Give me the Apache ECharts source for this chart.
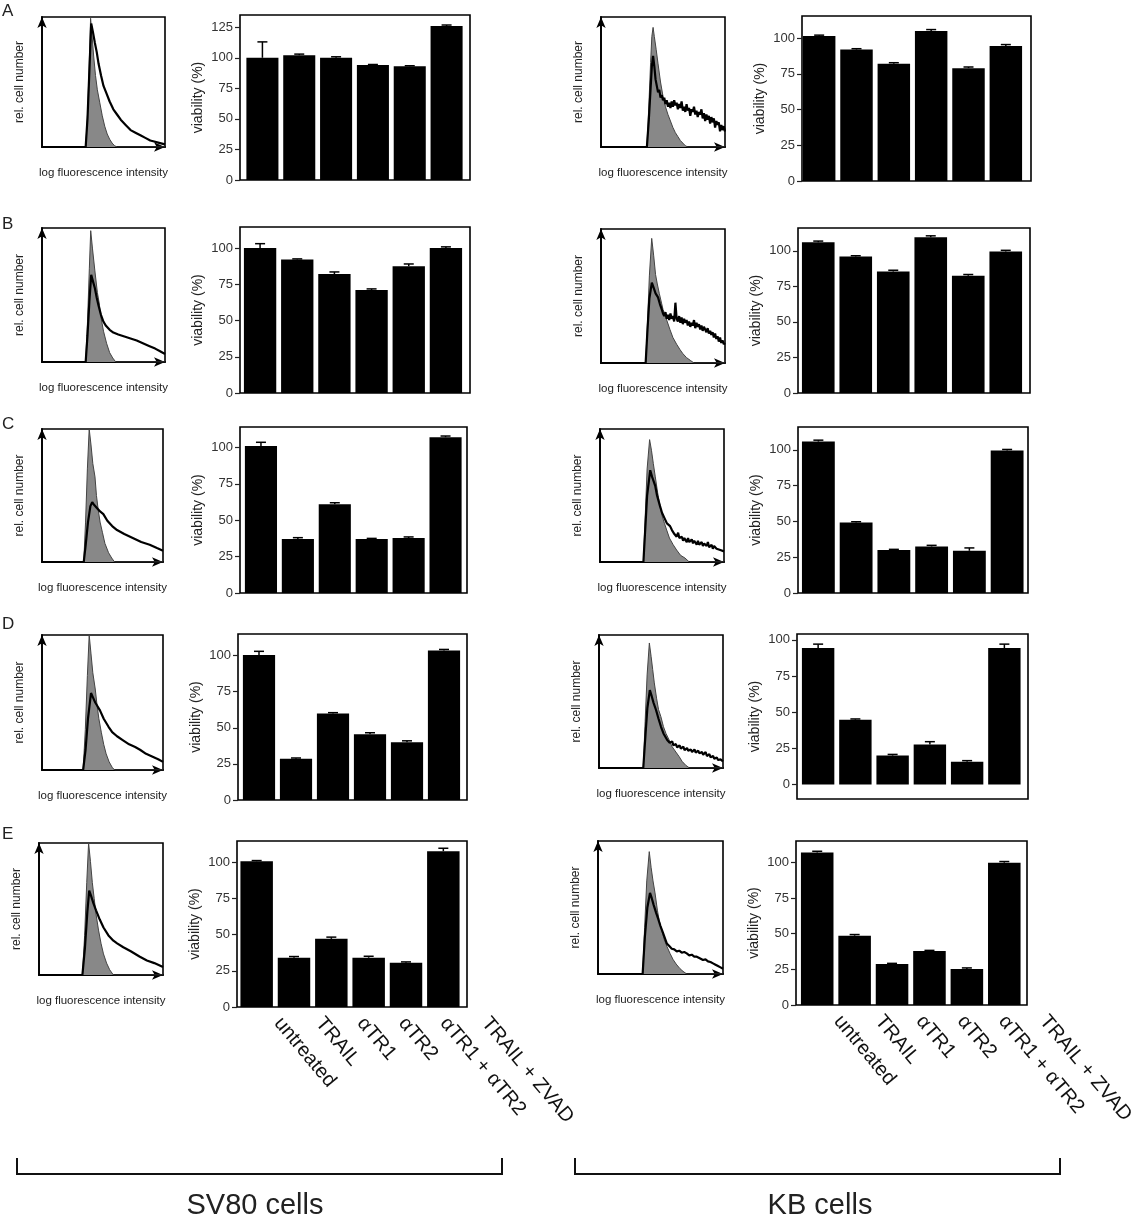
<!DOCTYPE html>
<html><head><meta charset="utf-8">
<script src="https://cdn.jsdelivr.net/npm/echarts@6/dist/echarts.min.js"></script>
<style>html,body{margin:0;padding:0;background:#fff}#c{width:1137px;height:1221px}</style>
</head><body><div id="c"></div>
<script>
// ---------------- DATA ----------------
const categories = ['untreated', 'TRAIL', 'αTR1', 'αTR2', 'αTR1 + αTR2', 'TRAIL + ZVAD'];
const rowLetters = ['A', 'B', 'C', 'D', 'E'];
const tickValues = [0, 25, 50, 75, 100];
const tickValuesWide = [0, 25, 50, 75, 100, 125];

// viability (%) – SV80 cells, rows A..E
const sv80A = [100, 102, 100, 94, 93, 126];
const sv80AErr = [13, 1, 0.8, 0.5, 0.5, 0.8];
const sv80B = [100, 92, 82, 71, 87.5, 100];
const sv80BErr = [3, 0.5, 1.5, 0.8, 1.5, 0.8];
const sv80C = [101, 37, 61, 37, 37.7, 107];
const sv80CErr = [2.5, 1, 1, 0.5, 0.8, 0.8];
const sv80D = [100.5, 28.6, 60, 45.6, 40, 103.5];
const sv80DErr = [2.5, 0.5, 0.5, 1, 1, 0.8];
const sv80E = [100.5, 34, 47, 34, 30.6, 107.5];
const sv80EErr = [0.5, 0.8, 1.2, 1, 0.5, 2];

// viability (%) – KB cells, rows A..E
const kbA = [101.5, 92, 82, 105, 79, 94.5];
const kbAErr = [0.6, 0.6, 0.8, 1, 0.8, 1];
const kbB = [106, 96, 85.5, 109.5, 82.5, 99.5];
const kbBErr = [0.8, 0.5, 0.8, 1, 0.8, 0.8];
const kbC = [105.8, 49.3, 30, 32.5, 29.5, 99.5];
const kbCErr = [1, 0.5, 0.5, 0.8, 2, 0.8];
const kbD = [94.3, 44.8, 20, 27.6, 15.7, 94.3];
const kbDErr = [2.7, 0.5, 0.8, 2, 0.8, 2.7];
const kbE = [107, 48.6, 28.7, 37.8, 25.2, 99.8];
const kbEErr = [0.8, 0.8, 0.5, 0.5, 0.8, 0.8];

// y-axis ranges of the viability panels
const sv80YMin = [0, 0, 0, 0, 0];
const sv80YMax = [135, 114.5, 114, 115, 114.5];
const kbYMin = [0, 0, 0, -10, 0];
const kbYMax = [115.5, 116, 116, 104, 115];

// flow-cytometry histograms: [log intensity %, rel. cell number %]
const sv80ACtrl = [[0,0],[35.5,0],[37,25],[38.3,60],[39.5,99],[40.5,88],[42,70],[43.5,55],[45,44],[47,34],[49,24],[51,16],[53,10],[55,6],[57,3],[59,1],[61,0],[100,0]];
const sv80AStain = [[0,0],[35.5,0],[37,22],[38.5,58],[40,95],[41.5,88],[43,80],[44.5,73],[46,64],[48,55],[50,47],[52.5,41],[55,35],[58,29],[61,25],[64,21],[68,17],[72,13],[76,11],[80,9],[84,7],[88,5],[92,4],[96,3],[100,2]];
const sv80BCtrl = [[0,0],[35.5,0],[37,30],[38.5,70],[39.6,98],[41,85],[43,68],[45,52],[46.5,44],[48,33],[50,23],[52.5,14],[55,7],[57.5,3],[60,0],[100,0]];
const sv80BStain = [[0,0],[35.5,0],[37,20],[38.5,45],[40,65],[41.5,60],[43,55],[44.5,48],[46,42],[48,35],[50,30],[52,27],[55,24],[58,22],[62,20.5],[67,19],[72,17.5],[77,16],[82,14],[87,12],[92,10],[96,8],[100,6]];
const sv80CCtrl = [[0,0],[34.5,0],[36,30],[37.5,70],[39,100],[40.5,88],[42,74],[43.8,64],[45,50],[46.5,39],[48,30],[50,22],[52,14],[55,7],[57.6,3],[60,0],[100,0]];
const sv80CStain = [[0,0],[34.5,0],[36,12],[38,30],[40,42],[41.5,45],[43,43],[45,41],[48,38],[50.7,36],[54,31],[58,27],[62,24],[68,21],[75,18],[82,15],[89,13],[95,10.5],[100,8.5]];
const sv80DCtrl = [[0,0],[34,0],[35.8,30],[37.5,70],[39,100],[40.5,86],[42,72],[44,60],[45.5,48],[47,38],[49,28],[51,19],[53,12],[55.5,6],[58,2],[60,0],[100,0]];
const sv80DStain = [[0,0],[34,0],[36,15],[38,38],[40.5,57],[42,54],[44,50],[46,47],[48,44],[51,38],[55,32],[58,28],[62,25],[67,22],[72,19],[77,17],[81,15],[86,12],[91,10],[96,8],[100,6]];
const sv80ECtrl = [[0,0],[35,0],[36.8,30],[38.5,70],[40,100],[41.5,86],[43,70],[44.5,58],[46,46],[48,34],[50,24],[52,16],[54.5,9],[57,4],[60,0],[100,0]];
const sv80EStain = [[0,0],[35,0],[37,20],[39,48],[40.5,64],[42,60],[44,54],[46,49],[49,42],[52,36],[56,30],[60,26],[63,24],[68,21],[74,18],[81,14],[87,11],[93,9],[100,6]];

const kbACtrl = [[0,0],[37,0],[38.5,30],[40,65],[41,85],[42,92],[43,85],[44.5,75],[46,64],[48,50],[50,39],[52,31],[54,25],[56,20],[58,15],[60,11],[62,8],[64,5],[66,3],[68,1],[70,0],[100,0]];
const kbAStain = [[0,0],[37,0],[38.5,20],[40,45],[41,62],[42,70],[43,62],[44,52],[45,47],[46,42],[47,44],[48,38],[49,40],[50,36],[51,38],[52,33],[53,36],[54,31],[55,34],[56,30],[57,35],[58,31],[59,36],[60,32],[61,34],[62,29],[63,33],[64,30],[65,35],[66,28],[67,31],[68,27],[69,33],[70,28],[71,30],[72,24],[73,29],[74,27],[75,31],[76,25],[77,28],[78,23],[79,27],[80,25],[81,29],[82,22],[83,26],[84,20],[85,25],[86,21],[87,24],[88,18],[89,23],[90,19],[91,22],[92,15],[93,20],[94,17],[95,19],[96,12],[97,17],[98,13],[99,16],[100,12]];
const kbBCtrl = [[0,0],[36,0],[37.5,30],[39,65],[40.9,93],[42.5,80],[44,66],[45.4,59],[47,52],[50,40],[53,32],[55.6,25],[58,19],[61,14],[63.7,10],[66,7],[69,4],[72,2],[75,0],[100,0]];
const kbBStain = [[0,0],[36,0],[37.5,25],[39,48],[41,60],[42.5,56],[44,52],[46,49],[47.5,44],[49,40],[50,37],[51,35],[52,38],[53,33],[54,36],[55,32],[56,37],[57,33],[58,35],[59,31],[60,45],[61,33],[62,31],[63,35],[64,30],[65,34],[66,29],[67,33],[68,30],[69,32],[70,28],[71,31],[72,27],[73,30],[74,28],[75,32],[76,26],[77,30],[78,27],[79,29],[80,25],[81,28],[82,24],[83,27],[84,26],[85,23],[86,26],[87,22],[88,24],[89,21],[90,23],[91,19],[92,22],[93,18],[94,20],[95,16],[96,19],[97,15],[98,17],[99,14],[100,15]];
const kbCCtrl = [[0,0],[35,0],[36.5,35],[38,70],[40,92],[41.5,84],[43,74],[44.6,64],[46.5,52],[48.4,42],[50,35],[52,29],[53.8,24],[56,18],[59,13],[61.8,9],[65,5],[68.5,3],[72,0],[100,0]];
const kbCStain = [[0,0],[35,0],[36.5,25],[38,50],[40.5,69],[42,64],[43.5,60],[44.6,57],[46,50],[47.5,45],[48.4,42],[50,37],[52,33],[54,29],[56.5,27],[58,24],[60,21],[61.8,19],[63,22],[64,18],[66,19],[67,16],[68,18],[70,15],[71,18],[72,15],[74,17],[75,14],[76,16],[78,13],[79,16],[80,13],[82,15],[83,12],[84,14],[86,12],[87,15],[88,11],[90,13],[91,10],[92,12],[94,10],[95,11],[97,9],[98,10],[100,8]];
const kbDCtrl = [[0,0],[35.7,0],[37.2,35],[38.8,70],[40.6,94],[42,84],[43.3,74],[44.6,64],[46.5,52],[48,44],[49.9,38.6],[52,31],[54,26],[56.6,21],[59,16],[62,12],[64.7,8.5],[67,5],[70,2],[73,0],[100,0]];
const kbDStain = [[0,0],[35.7,0],[37.5,25],[39,45],[41,58.6],[42.5,54],[44,49],[46,43.6],[48,37],[50,31],[52,26],[55,21],[57,19],[59,20],[60,17],[62,18],[63,15.5],[65,17],[66,14.5],[68,16],[69,13.5],[71,15],[72,13],[74,14],[75,12],[77,14],[78,11.5],[80,13],[81,11],[83,12],[84,10],[86,12],[87,9],[89,10.5],[90,8],[92,9],[93,7],[95,8],[96,6],[98,6.5],[100,5]];
const kbECtrl = [[0,0],[35.7,0],[37.3,35],[39,70],[41,92],[42.5,80],[44,70],[45.6,61],[47.5,48],[49,40],[50.9,33],[53,26],[55,21],[57.6,15.5],[60,11],[62.5,7.5],[65.6,4],[68,2],[71,0],[100,0]];
const kbEStain = [[0,0],[35.7,0],[37.5,28],[39.5,50],[41.6,61],[43,57],[44.5,52],[46.5,46],[48.3,41],[50,36],[52,31],[55,23],[57,21],[59,19],[61,18.5],[63,17],[65,17.5],[67,16],[69,16.5],[71,15.5],[73,14],[75,14.5],[77,13],[79,13],[81,12],[84,10.5],[86,11],[88,9.5],[90,9],[92,8],[94,7],[96,6],[98,5],[100,4]];

// ---------------- LAYOUT (pixels) ----------------
const histBoxSV80 = [[42,17,165,147],[42,228,165,362],[42,429,163,562],[42,635,163,770],[39,843,163,975]];
const histBoxKB   = [[601,17,725,147],[601,229,725,363],[600,429,724,562],[599,635,723,768],[598,841,723,974]];
const barBoxSV80  = [[240,15,470,180],[240,227,470,393],[240,427,467,593],[238,634,467,800],[237,841,467,1007]];
const barBoxKB    = [[802,16,1031,181],[798,228,1030,393],[798,427,1028,593],[797,634,1028,799],[796,841,1027,1005]];
const barInnerSV80 = [[244,465],[241.5,464.5],[242.5,464],[240.5,462.5],[238,462]];
const barInnerKB   = [[800.5,1024.5],[799.5,1024.5],[799.5,1026],[799.5,1023],[798.5,1023]];
const catLabelBandSV80 = [257, 249];   // left, width of the label row under SV80 panel E
const catLabelBandKB = [817, 250];     // left, width of the label row under KB panel E
const letterTops = [3, 216, 416, 616, 826];

// ---------------- BUILD ----------------
const FONT = "'Liberation Sans', Arial, Helvetica, sans-serif";
const grids = [], xAxes = [], yAxes = [], series = [], graphics = [];

function addHist(box, ctrl, stain) {
  const gi = grids.length;
  grids.push({left: box[0], top: box[1], width: box[2] - box[0], height: box[3] - box[1],
    show: true, borderColor: '#000', borderWidth: 1.6, backgroundColor: 'rgba(0,0,0,0)'});
  const arrowLine = {show: true, lineStyle: {color: '#000', width: 1.8}, symbol: ['none', 'arrow'], symbolSize: [7, 11]};
  xAxes.push({gridIndex: gi, type: 'value', min: 0, max: 100, offset: 10,
    axisLine: arrowLine, axisTick: {show: false}, axisLabel: {show: false}, splitLine: {show: false},
    name: 'log fluorescence intensity', nameLocation: 'middle', nameGap: 10,
    nameTextStyle: {fontFamily: FONT, fontSize: 11.5, color: '#222'}});
  yAxes.push({gridIndex: gi, type: 'value', min: 0, max: 100, offset: 10,
    axisLine: arrowLine, axisTick: {show: false}, axisLabel: {show: false}, splitLine: {show: false},
    name: 'rel. cell number', nameLocation: 'middle', nameGap: 6,
    nameTextStyle: {fontFamily: FONT, fontSize: 12, color: '#222'}});
  series.push({type: 'line', xAxisIndex: gi, yAxisIndex: gi, data: ctrl, showSymbol: false, silent: true,
    lineStyle: {color: '#444', width: 1}, areaStyle: {color: '#888', opacity: 1}, z: 2});
  series.push({type: 'line', xAxisIndex: gi, yAxisIndex: gi, data: stain, showSymbol: false, silent: true,
    lineStyle: {color: '#000', width: 2.2}, z: 3});
}

function addBar(box, inner, vals, errs, yMin, yMax, ticks) {
  // frame
  let gi = grids.length;
  grids.push({left: box[0], top: box[1], width: box[2] - box[0], height: box[3] - box[1],
    show: true, borderColor: '#000', borderWidth: 1.6, backgroundColor: 'rgba(0,0,0,0)'});
  xAxes.push({gridIndex: gi, type: 'value', show: false, min: 0, max: 1});
  yAxes.push({gridIndex: gi, type: 'value', show: false, min: 0, max: 1});
  // plot
  gi = grids.length;
  grids.push({left: inner[0], top: box[1], width: inner[1] - inner[0], height: box[3] - box[1], show: false});
  xAxes.push({gridIndex: gi, type: 'category', data: categories,
    axisLine: {show: false}, axisTick: {show: false}, splitLine: {show: false}, axisLabel: {show: false}});
  yAxes.push({gridIndex: gi, type: 'value', min: yMin, max: yMax, offset: inner[0] - box[0],
    axisLine: {show: false}, splitLine: {show: false},
    axisTick: {show: true, length: 5, customValues: ticks, lineStyle: {color: '#222', width: 1.2}},
    axisLabel: {customValues: ticks, margin: 7, fontFamily: FONT, fontSize: 13, color: '#333'},
    name: 'viability (%)', nameLocation: 'middle', nameGap: 35,
    nameTextStyle: {fontFamily: FONT, fontSize: 14, color: '#222'}});
  series.push({type: 'bar', xAxisIndex: gi, yAxisIndex: gi, data: vals, barCategoryGap: '13%',
    itemStyle: {color: '#000'}, silent: true, z: 2});
  series.push({type: 'custom', xAxisIndex: gi, yAxisIndex: gi, silent: true, z: 3,
    data: vals.map((v, i) => [i, v, v + errs[i]]),
    encode: {x: 0, y: 2},
    renderItem: function (params, api) {
      const base = api.coord([api.value(0), api.value(1)]);
      const top = api.coord([api.value(0), api.value(2)]);
      const half = 5;
      return {type: 'group', children: [
        {type: 'line', shape: {x1: top[0], y1: base[1], x2: top[0], y2: top[1]}, style: {stroke: '#000', lineWidth: 1.5}},
        {type: 'line', shape: {x1: top[0] - half, y1: top[1], x2: top[0] + half, y2: top[1]}, style: {stroke: '#000', lineWidth: 1.5}}
      ]};
    }});
}

// a label-only category axis under the bottom bar panels (labels are spaced a bit wider than the bars)
function addCategoryLabels(box, band) {
  const gi = grids.length;
  grids.push({left: band[0], top: box[1], width: band[1], height: box[3] - box[1], show: false});
  xAxes.push({gridIndex: gi, type: 'category', data: categories,
    axisLine: {show: false}, axisTick: {show: false}, splitLine: {show: false},
    axisLabel: {show: true, interval: 0, rotate: -50, margin: 13, fontFamily: FONT, fontSize: 20, color: '#111'}});
  yAxes.push({gridIndex: gi, type: 'value', show: false, min: 0, max: 1});
}

const sv80Vals = [sv80A, sv80B, sv80C, sv80D, sv80E];
const sv80Errs = [sv80AErr, sv80BErr, sv80CErr, sv80DErr, sv80EErr];
const kbVals = [kbA, kbB, kbC, kbD, kbE];
const kbErrs = [kbAErr, kbBErr, kbCErr, kbDErr, kbEErr];
const sv80Hist = [[sv80ACtrl, sv80AStain], [sv80BCtrl, sv80BStain], [sv80CCtrl, sv80CStain], [sv80DCtrl, sv80DStain], [sv80ECtrl, sv80EStain]];
const kbHist = [[kbACtrl, kbAStain], [kbBCtrl, kbBStain], [kbCCtrl, kbCStain], [kbDCtrl, kbDStain], [kbECtrl, kbEStain]];

for (let r = 0; r < 5; r++) {
  addHist(histBoxSV80[r], sv80Hist[r][0], sv80Hist[r][1]);
  addBar(barBoxSV80[r], barInnerSV80[r], sv80Vals[r], sv80Errs[r], sv80YMin[r], sv80YMax[r], r === 0 ? tickValuesWide : tickValues);
  addHist(histBoxKB[r], kbHist[r][0], kbHist[r][1]);
  addBar(barBoxKB[r], barInnerKB[r], kbVals[r], kbErrs[r], kbYMin[r], kbYMax[r], tickValues);
  graphics.push({type: 'text', left: 2, top: letterTops[r],
    style: {text: rowLetters[r], fontFamily: FONT, fontSize: 17, fill: '#222'}});
}
addCategoryLabels(barBoxSV80[4], catLabelBandSV80);
addCategoryLabels(barBoxKB[4], catLabelBandKB);

// brackets and group labels
graphics.push({type: 'polyline', shape: {points: [[17,1158],[17,1174],[502,1174],[502,1158]]}, style: {stroke: '#111', lineWidth: 2, fill: null}});
graphics.push({type: 'polyline', shape: {points: [[575,1158],[575,1174],[1060,1174],[1060,1158]]}, style: {stroke: '#111', lineWidth: 2, fill: null}});
graphics.push({type: 'text', x: 255, y: 1206, style: {text: 'SV80 cells', fontFamily: FONT, fontSize: 29, fill: '#222', align: 'center', verticalAlign: 'middle'}});
graphics.push({type: 'text', x: 820, y: 1206, style: {text: 'KB cells', fontFamily: FONT, fontSize: 29, fill: '#222', align: 'center', verticalAlign: 'middle'}});

const chart = echarts.init(document.getElementById('c'), null, {renderer: 'canvas'});
chart.setOption({
  animation: false,
  backgroundColor: '#fff',
  grid: grids, xAxis: xAxes, yAxis: yAxes, series: series, graphic: graphics
});
</script></body></html>
